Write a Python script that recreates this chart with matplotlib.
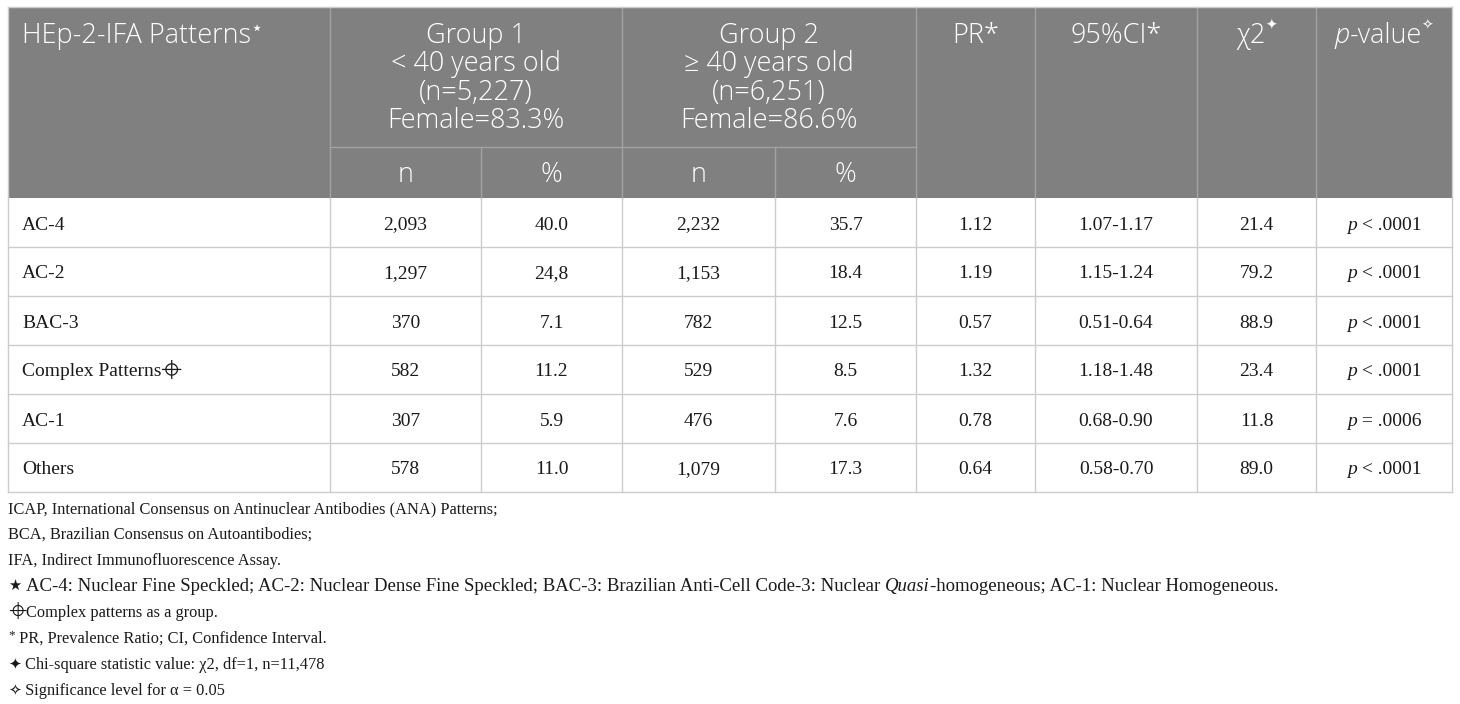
import matplotlib
matplotlib.use("Agg")
import matplotlib.pyplot as plt
from matplotlib.font_manager import FontProperties
from matplotlib import font_manager as fm
from matplotlib.ft2font import FT2Font

# ---------------- data ----------------
patterns = ["AC-4", "AC-2", "BAC-3", "Complex Patterns", "AC-1", "Others"]
g1_n = ["2,093", "1,297", "370", "582", "307", "578"]
g1_pct = ["40.0", "24,8", "7.1", "11.2", "5.9", "11.0"]
g2_n = ["2,232", "1,153", "782", "529", "476", "1,079"]
g2_pct = ["35.7", "18.4", "12.5", "8.5", "7.6", "17.3"]
pr = ["1.12", "1.19", "0.57", "1.32", "0.78", "0.64"]
ci95 = ["1.07-1.17", "1.15-1.24", "0.51-0.64", "1.18-1.48", "0.68-0.90", "0.58-0.70"]
chi2 = ["21.4", "79.2", "88.9", "23.4", "11.8", "89.0"]
p_op = ["<", "<", "<", "<", "=", "<"]
p_val = [".0001", ".0001", ".0001", ".0001", ".0006", ".0001"]

group1_lines = ["Group 1", "< 40 years old", "(n=5,227)", "Female=83.3%"]
group2_lines = ["Group 2", "\u2265 40 years old", "(n=6,251)", "Female=86.6%"]

footnotes_plain = [
    "ICAP, International Consensus on Antinuclear Antibodies (ANA) Patterns;",
    "BCA, Brazilian Consensus on Autoantibodies;",
    "IFA, Indirect Immunofluorescence Assay.",
]

# ---------------- layout ----------------
W, H, DPI = 1460, 704, 100
fig = plt.figure(figsize=(W / DPI, H / DPI), dpi=DPI)
ax = fig.add_axes([0, 0, 1, 1])
ax.set_xlim(0, W)
ax.set_ylim(H, 0)
ax.axis("off")

cols = [8, 330, 481, 622, 775, 916, 1035, 1197, 1316, 1452]
y_top, y_sub, y_head = 7, 147, 198
row_h = 49
header_bg = "#808080"
header_line = "#a2a2a2"
grid = "#cccccc"

SANS = ["Open Sans", "DejaVu Sans"]
SERIF = ["Liberation Serif", "DejaVu Serif"]
SYM = ["DejaVu Sans"]

fig.canvas.draw()
renderer = fig.canvas.get_renderer()


def run_width(s, fp):
    t = ax.text(0, 0, s, fontproperties=fp)
    bb = t.get_window_extent(renderer)
    t.remove()
    return bb.width


_probe = FontProperties(family=SANS, size=16, weight="light")
HS = 16 * 170.0 / run_width("< 40 years old", _probe)

fp_head = FontProperties(family=SANS, size=HS, weight="light")
fp_head_it = FontProperties(family=SANS, size=HS, style="italic", weight="light")
fp_sup = FontProperties(family=SYM, size=10)
BS = 14.0
fp_body = FontProperties(family=SERIF, size=BS)
fp_body_it = FontProperties(family=SERIF, size=BS, style="italic")
FS = 11.8
fp_foot = FontProperties(family=SERIF, size=FS)


def find_family(ch):
    for f in fm.fontManager.ttflist:
        try:
            if ord(ch) in FT2Font(f.fname).get_charmap():
                return f.name
        except Exception:
            pass
    return None

CROSS = "\u2316"
cross_family = find_family(CROSS)

# header background and lines
ax.add_patch(plt.Rectangle((cols[0], y_top), cols[-1] - cols[0], y_head - y_top,
                           facecolor=header_bg, edgecolor="none", zorder=0))
for i, x in enumerate(cols[1:-1], start=1):
    if i in (2, 4):
        ax.plot([x, x], [y_sub, y_head], color=header_line, lw=1, zorder=1)
    else:
        ax.plot([x, x], [y_top, y_head], color=header_line, lw=1, zorder=1)
ax.plot([cols[1], cols[5]], [y_sub, y_sub], color=header_line, lw=1, zorder=1)

# body grid
n_rows = len(patterns)
y_bottom = y_head + n_rows * row_h
for r in range(1, n_rows + 1):
    y = y_head + r * row_h
    ax.plot([cols[0], cols[-1]], [y, y], color=grid, lw=1, zorder=1)
for x in cols:
    ax.plot([x, x], [y_head, y_bottom], color=grid, lw=1, zorder=1)
ax.plot([cols[0], cols[0]], [y_top, y_head], color=grid, lw=1, zorder=1)
ax.plot([cols[-1], cols[-1]], [y_top, y_head], color=grid, lw=1, zorder=1)
ax.plot([cols[0], cols[-1]], [y_top, y_top], color=grid, lw=1, zorder=1)


def draw_cross(x0, yb, color, size=16):
    r = size * 0.3
    cx, cy = x0 + size / 2, yb - size * 0.38
    ax.add_patch(plt.Circle((cx, cy), r, fill=False, edgecolor=color, lw=0.9, zorder=3))
    ax.plot([cx - size / 2, cx + size / 2], [cy, cy], color=color, lw=0.9, zorder=3)
    ax.plot([cx, cx], [cy - size / 2, cy + size / 2], color=color, lw=0.9, zorder=3)


def draw_runs(x, y, runs, color, ha="left"):
    """runs: list of (text, fontprops, dy) drawn one after the other."""
    widths = []
    for s, fp, _ in runs:
        if s == CROSS and cross_family is None:
            widths.append(16)
        else:
            widths.append(run_width(s, fp))
    total = sum(widths)
    x0 = x - total / 2 if ha == "center" else (x - total if ha == "right" else x)
    for (s, fp, dy), w in zip(runs, widths):
        if s == CROSS and cross_family is None:
            draw_cross(x0, y + dy, color)
        else:
            ax.text(x0, y + dy, s, fontproperties=fp, color=color,
                    ha="left", va="baseline", zorder=3)
        x0 += w


def ctr(i):
    return (cols[i] + cols[i + 1]) / 2

cross_fp = FontProperties(family=[cross_family] if cross_family else SYM, size=14)
cross_fp_small = FontProperties(family=[cross_family] if cross_family else SYM, size=12)

# ---------------- header text ----------------
hw = "white"
base1 = 43
line_gap = 28.5
draw_runs(22, base1, [("HEp-2-IFA Patterns", fp_head, 0),
                      ("\u22c6", FontProperties(family=SYM, size=14), -9)], hw)
for k, s in enumerate(group1_lines):
    ax.text((cols[1] + cols[3]) / 2, base1 + k * line_gap, s, fontproperties=fp_head,
            color=hw, ha="center", va="baseline", zorder=3)
for k, s in enumerate(group2_lines):
    ax.text((cols[3] + cols[5]) / 2, base1 + k * line_gap, s, fontproperties=fp_head,
            color=hw, ha="center", va="baseline", zorder=3)
sub_base = 182
for i, s in zip([1, 2, 3, 4], ["n", "%", "n", "%"]):
    ax.text(ctr(i), sub_base, s, fontproperties=fp_head, color=hw,
            ha="center", va="baseline", zorder=3)
draw_runs(ctr(5), base1, [("PR*", fp_head, 0)], hw, ha="center")
draw_runs(ctr(6), base1, [("95%CI*", fp_head, 0)], hw, ha="center")
draw_runs(ctr(7), base1, [("\u03c72", fp_head, 0), ("\u2726", fp_sup, -13)], hw, ha="center")
draw_runs(ctr(8), base1, [("p", fp_head_it, 0), ("-value", fp_head, 0),
                          ("\u2727", fp_sup, -13)], hw, ha="center")

# ---------------- body text ----------------
bc = "#1a1a1a"
for r in range(n_rows):
    yb = y_head + r * row_h + row_h / 2 + 7
    if patterns[r] == "Complex Patterns":
        draw_runs(22, yb, [(patterns[r], fp_body, 0), (CROSS, cross_fp, -3)], bc)
    else:
        ax.text(22, yb, patterns[r], fontproperties=fp_body, color=bc,
                ha="left", va="baseline", zorder=3)
    for i, vals in zip(range(1, 8), [g1_n, g1_pct, g2_n, g2_pct, pr, ci95, chi2]):
        ax.text(ctr(i), yb, vals[r], fontproperties=fp_body, color=bc,
                ha="center", va="baseline", zorder=3)
    draw_runs(ctr(8), yb, [("p", fp_body_it, 0), (" " + p_op[r] + " " + p_val[r], fp_body, 0)],
              bc, ha="center")

# ---------------- footnotes ----------------
fc = "#1a1a1a"
fy0 = 513
fgap = 26
for k, s in enumerate(footnotes_plain):
    ax.text(8, fy0 + k * fgap, s, fontproperties=fp_foot, color=fc,
            ha="left", va="baseline", zorder=3)

# the abbreviation line is set a little larger in the reference
line4 = [("AC-4: Nuclear Fine Speckled; AC-2: Nuclear Dense Fine Speckled; "
          "BAC-3: Brazilian Anti-Cell Code-3: Nuclear ", "normal"),
         ("Quasi", "italic"),
         ("-homogeneous; AC-1: Nuclear Homogeneous.", "normal")]
_w = sum(run_width(s, FontProperties(family=SERIF, size=13, style=st)) for s, st in line4)
FS4 = 13 * (1277 - 30) / _w
runs4 = [("\u2605", FontProperties(family=SYM, size=10.5), -1),
         (" ", FontProperties(family=SERIF, size=FS4), 0)]
runs4 += [(s, FontProperties(family=SERIF, size=FS4, style=st), 0) for s, st in line4]
draw_runs(8, fy0 + 3 * fgap, runs4, fc)

draw_runs(8, fy0 + 4 * fgap, [(CROSS, cross_fp_small, -2),
                              ("Complex patterns as a group.", fp_foot, 0)], fc)
draw_runs(8, fy0 + 5 * fgap, [("*", FontProperties(family=SERIF, size=9.5), -5),
                              (" PR, Prevalence Ratio; CI, Confidence Interval.", fp_foot, 0)], fc)
draw_runs(8, fy0 + 6 * fgap, [("\u2726", FontProperties(family=SYM, size=11), 0),
                              (" Chi-square statistic value: \u03c72, df=1, n=11,478", fp_foot, 0)], fc)
draw_runs(8, fy0 + 7 * fgap, [("\u2727", FontProperties(family=SYM, size=11), 0),
                              (" Significance level for \u03b1 = 0.05", fp_foot, 0)], fc)

fig.savefig("out.png", dpi=DPI)
